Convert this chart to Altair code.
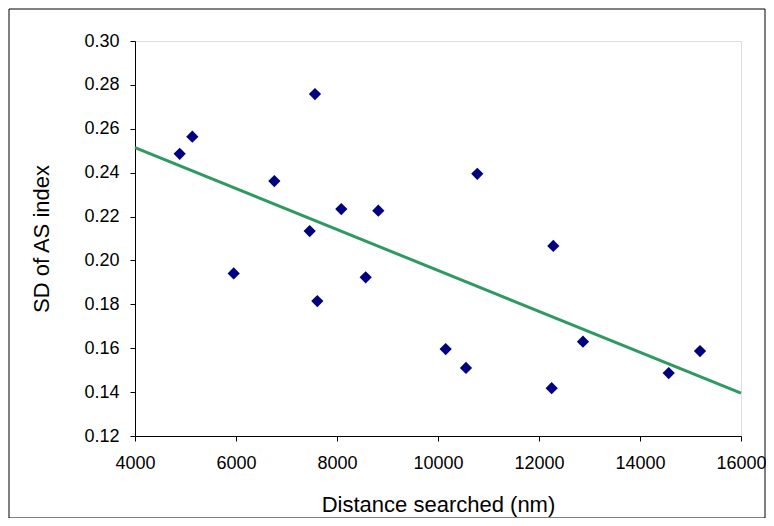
import altair as alt
import pandas as pd

distance = [4885, 5135, 7564, 6759, 7459, 8085, 8818, 5954, 7610, 8568,
            10778, 12283, 10152, 10554, 12251, 12871, 14568, 15188]
sd_index = [0.2486, 0.2564, 0.2758, 0.2362, 0.2134, 0.2234, 0.2227, 0.1941, 0.1815, 0.1923,
            0.2395, 0.2066, 0.1596, 0.1510, 0.1418, 0.1630, 0.1487, 0.1587]
trend_x = [4000, 16000]
trend_y = [0.2514, 0.1395]
x_ticks = [4000, 6000, 8000, 10000, 12000, 14000, 16000]
y_ticks = [0.12, 0.14, 0.16, 0.18, 0.20, 0.22, 0.24, 0.26, 0.28, 0.30]

pts = pd.DataFrame({"d": distance, "sd": sd_index})
trend = pd.DataFrame({"d": trend_x, "sd": trend_y})

xs = alt.Scale(domain=[4000, 16000], nice=False, zero=False)
ys = alt.Scale(domain=[0.12, 0.30], nice=False, zero=False)

xax = alt.Axis(values=x_ticks, title="Distance searched (nm)", format="d", grid=False,
               labelFontSize=18, titleFontSize=22, titleFontWeight="normal",
               labelPadding=13, titlePadding=22, tickSize=5, domainColor="black",
               tickColor="black", labelColor="black", titleColor="black",
               labelFlush=False)
yax = alt.Axis(values=y_ticks, title="SD of AS index", format=".2f", grid=False,
               labelFontSize=18, titleFontSize=22, titleFontWeight="normal",
               labelPadding=11, titlePadding=30, tickSize=5, domainColor="black",
               tickColor="black", labelColor="black", titleColor="black",
               labelFlush=False)

line = alt.Chart(trend).mark_line(color="#2E9A62", strokeWidth=3).encode(
    x=alt.X("d:Q", scale=xs, axis=xax),
    y=alt.Y("sd:Q", scale=ys, axis=yax),
)
points = alt.Chart(pts).mark_point(shape="diamond", filled=True, color="#000080",
                                   size=150, opacity=1).encode(
    x=alt.X("d:Q", scale=xs),
    y=alt.Y("sd:Q", scale=ys),
)
border = alt.Chart(pd.DataFrame({"a": [0]})).mark_rect(
    fill=None, stroke="black", strokeWidth=1, clip=False).encode(
    x=alt.value(-126), x2=alt.value(630), y=alt.value(-32), y2=alt.value(477))

chart = alt.layer(border, line, points).properties(
    width=606, height=395,
    autosize=alt.AutoSizeParams(type="none"),
    padding={"left": 127, "top": 33, "right": 25, "bottom": 82},
    background="white",
).configure_view(stroke="#808080", strokeWidth=1.5).configure(
    font="Liberation Sans"
)

chart.save("out.html", embed_options={"renderer": "svg", "actions": False})
